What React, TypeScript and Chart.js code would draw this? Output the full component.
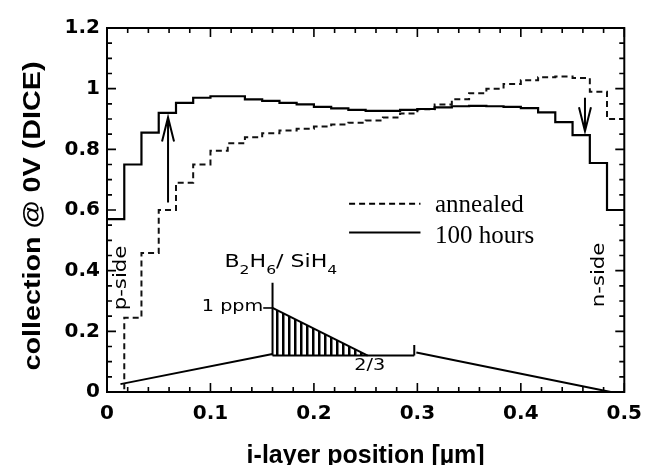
import React, { useEffect, useRef } from "react";
import { Chart, registerables } from "chart.js";

Chart.register(...registerables);

// Bin edges of the i-layer (µm); each series value holds from its edge to the next one
const BIN_EDGES = [
  0, 0.0167, 0.0333, 0.05, 0.0667, 0.0833, 0.1, 0.1167, 0.1333, 0.15, 0.1667, 0.1833, 0.2, 0.2167, 0.2333,
  0.25, 0.2667, 0.2833, 0.3, 0.3167, 0.3333, 0.35, 0.3667, 0.3833, 0.4, 0.4167, 0.4333, 0.45, 0.4667, 0.4833, 0.5,
];
const HOURS_100 = [
  0.57, 0.75, 0.855, 0.92, 0.953, 0.97, 0.975, 0.975, 0.965, 0.96, 0.953, 0.948, 0.94, 0.935, 0.93,
  0.927, 0.927, 0.93, 0.933, 0.938, 0.942, 0.943, 0.942, 0.94, 0.936, 0.922, 0.89, 0.847, 0.755, 0.6,
];
const ANNEALED = [
  0, 0.245, 0.458, 0.6, 0.69, 0.75, 0.795, 0.82, 0.84, 0.853, 0.862, 0.868, 0.875, 0.882, 0.888,
  0.895, 0.905, 0.918, 0.932, 0.948, 0.965, 0.985, 1.0, 1.015, 1.028, 1.038, 1.04, 1.035, 0.99, 0.9,
];

// B2H6/SiH4 doping profile sketch (bottom of the plot)
const RISE_X = [0.013, 0.16];
const RISE_Y = [0.026, 0.125];
const MARK_X = [0.16, 0.16];
const MARK_Y = [0.12, 0.36];
const HATCH_X = [0.16, 0.252];
const HATCH_Y = [0.277, 0.12];
const BASE_X = [0.16, 0.297];
const BASE_Y = [0.12, 0.12];
const KINK_X = [0.297, 0.297];
const KINK_Y = [0.12, 0.155];
const FALL_X = [0.299, 0.487];
const FALL_Y = [0.13, 0.0];
const HATCH_BASE = 0.12;

const X_MIN = 0;
const X_MAX = 0.5;
const X_MAJOR = 0.1;
const X_MINOR = 0.02;
const Y_MIN = 0;
const Y_MAX = 1.2;
const Y_MAJOR = 0.2;
const Y_MINOR = 0.05;

const X_TITLE = "i-layer position [µm]";
const Y_TITLE = "collection @ 0V (DICE)";
const LEGEND_LABELS = ["annealed", "100 hours"];

function stepped(vals: number[]) {
  return BIN_EDGES.map((x, i) => ({ x, y: vals[Math.min(i, vals.length - 1)] }));
}
function pts(xs: number[], ys: number[]) {
  return xs.map((x, i) => ({ x, y: ys[i] }));
}
function fmt(v: number) {
  return String(Number(Number(v).toFixed(2)));
}

function stretchText(
  ctx: CanvasRenderingContext2D,
  text: string,
  x: number,
  y: number,
  sx: number,
  align: "left" | "center" | "right",
  rot = 0
) {
  ctx.save();
  ctx.translate(x, y);
  if (rot) ctx.rotate(rot);
  ctx.scale(sx, 1);
  const w = ctx.measureText(text).width;
  const off = align === "left" ? 0 : align === "center" ? -w / 2 : -w;
  ctx.textAlign = "left";
  ctx.fillText(text, off, 0);
  ctx.restore();
}

const decorPlugin = {
  id: "decor",
  afterDraw(chart: any) {
    const { ctx, chartArea: a, scales } = chart;
    const xs = scales.x;
    const ys = scales.y;
    const px = (v: number) => xs.getPixelForValue(v);
    const py = (v: number) => ys.getPixelForValue(v);
    ctx.save();
    ctx.strokeStyle = "#000";
    ctx.fillStyle = "#000";

    // frame
    ctx.lineWidth = 2;
    ctx.strokeRect(a.left, a.top, a.right - a.left, a.bottom - a.top);

    // inward ticks on all four sides
    ctx.lineWidth = 1.6;
    const nx = Math.round((X_MAX - X_MIN) / X_MINOR);
    const perMajX = Math.round(X_MAJOR / X_MINOR);
    for (let i = 0; i <= nx; i++) {
      const X = px(X_MIN + i * X_MINOR);
      const len = i % perMajX === 0 ? 9 : 5;
      ctx.beginPath();
      ctx.moveTo(X, a.bottom);
      ctx.lineTo(X, a.bottom - len);
      ctx.moveTo(X, a.top);
      ctx.lineTo(X, a.top + len);
      ctx.stroke();
    }
    const ny = Math.round((Y_MAX - Y_MIN) / Y_MINOR);
    const perMajY = Math.round(Y_MAJOR / Y_MINOR);
    for (let i = 0; i <= ny; i++) {
      const Y = py(Y_MIN + i * Y_MINOR);
      const len = i % perMajY === 0 ? 9 : 5;
      ctx.beginPath();
      ctx.moveTo(a.left, Y);
      ctx.lineTo(a.left + len, Y);
      ctx.moveTo(a.right, Y);
      ctx.lineTo(a.right - len, Y);
      ctx.stroke();
    }

    // axis titles
    ctx.textBaseline = "alphabetic";
    ctx.font = 'bold 25px "Liberation Sans"';
    stretchText(ctx, X_TITLE, (a.left + a.right) / 2, a.bottom + 71, 1.0, "center");
    ctx.font = 'bold 23px "Liberation Sans"';
    stretchText(ctx, Y_TITLE, a.left - 67, (a.top + a.bottom) / 2 + 6, 1.25, "center", -Math.PI / 2);

    // side labels
    ctx.font = '17px "DejaVu Sans"';
    ctx.textBaseline = "middle";
    stretchText(ctx, "p-side", px(0.0144), py(0.376), 1.25, "center", -Math.PI / 2);
    stretchText(ctx, "n-side", px(0.476), py(0.386), 1.25, "center", -Math.PI / 2);

    // B2H6 / SiH4
    ctx.textBaseline = "alphabetic";
    const pieces = [
      { t: "B", s: false },
      { t: "2", s: true },
      { t: "H", s: false },
      { t: "6", s: true },
      { t: "/ SiH", s: false },
      { t: "4", s: true },
    ];
    let cx = px(0.1135);
    const by = py(0.412);
    const sx = 1.3;
    for (const p of pieces) {
      ctx.font = p.s ? '12px "DejaVu Sans"' : '17px "DejaVu Sans"';
      const w = ctx.measureText(p.t).width * sx;
      stretchText(ctx, p.t, cx, by + (p.s ? 7 : 0), sx, "left");
      cx += w;
    }

    // 1 ppm and 2/3
    ctx.font = '16px "DejaVu Sans"';
    ctx.textBaseline = "middle";
    stretchText(ctx, "1 ppm", px(0.151), py(0.282), 1.2, "right");
    stretchText(ctx, "2/3", px(0.254), py(0.086), 1.2, "center");
    ctx.lineWidth = 1.6;
    ctx.beginPath();
    ctx.moveTo(px(0.151), py(0.277));
    ctx.lineTo(px(0.16), py(0.277));
    ctx.stroke();

    // arrows
    const arrow = (xv: number, fromV: number, toV: number) => {
      const X = px(xv);
      const Y0 = py(fromV);
      const Y1 = py(toV);
      const dir = Y1 < Y0 ? 1 : -1;
      ctx.lineWidth = 2;
      ctx.beginPath();
      ctx.moveTo(X, Y0);
      ctx.lineTo(X, Y1);
      ctx.moveTo(X - 6, Y1 + dir * 24);
      ctx.lineTo(X, Y1);
      ctx.lineTo(X + 6, Y1 + dir * 24);
      ctx.stroke();
    };
    arrow(0.059, 0.625, 0.905);
    arrow(0.462, 0.97, 0.86);

    // legend
    ctx.lineWidth = 2;
    ctx.setLineDash([6, 4]);
    ctx.beginPath();
    ctx.moveTo(px(0.234), py(0.621));
    ctx.lineTo(px(0.303), py(0.621));
    ctx.stroke();
    ctx.setLineDash([]);
    ctx.beginPath();
    ctx.moveTo(px(0.234), py(0.526));
    ctx.lineTo(px(0.303), py(0.526));
    ctx.stroke();
    ctx.font = '25px "Liberation Serif"';
    ctx.textBaseline = "alphabetic";
    ctx.textAlign = "left";
    ctx.fillText(LEGEND_LABELS[0], px(0.317), py(0.593));
    ctx.fillText(LEGEND_LABELS[1], px(0.317), py(0.491));

    ctx.restore();
  },
};

export default function App() {
  const ref = useRef<HTMLCanvasElement>(null);
  useEffect(() => {
    const canvas = ref.current!;
    const pc = document.createElement("canvas");
    pc.width = 6;
    pc.height = 6;
    const pctx = pc.getContext("2d")!;
    pctx.fillStyle = "#000";
    pctx.fillRect(0, 0, 2.5, 6);
    const pattern = canvas.getContext("2d")!.createPattern(pc, "repeat");

    const tickFont = { family: "DejaVu Sans", weight: "bold" as const, size: 20 };
    const profileLine = (data: any[], extra: any = {}) => ({
      data,
      borderColor: "#000",
      borderWidth: 2,
      pointRadius: 0,
      fill: false,
      ...extra,
    });

    const chart = new Chart(canvas, {
      type: "line",
      data: {
        datasets: [
          {
            label: LEGEND_LABELS[1],
            data: stepped(HOURS_100),
            stepped: "before",
            borderColor: "#000",
            borderWidth: 2.2,
            pointRadius: 0,
            fill: false,
          },
          {
            label: LEGEND_LABELS[0],
            data: stepped(ANNEALED),
            stepped: "before",
            borderColor: "#111",
            borderWidth: 2,
            borderDash: [6, 4],
            pointRadius: 0,
            fill: false,
          },
          profileLine(pts(RISE_X, RISE_Y)),
          profileLine(pts(MARK_X, MARK_Y)),
          profileLine(pts(HATCH_X, HATCH_Y), { fill: { value: HATCH_BASE }, backgroundColor: pattern }),
          profileLine(pts(BASE_X, BASE_Y)),
          profileLine(pts(KINK_X, KINK_Y)),
          profileLine(pts(FALL_X, FALL_Y)),
        ],
      } as any,
      options: {
        responsive: true,
        maintainAspectRatio: false,
        animation: false,
        layout: { padding: { top: 28, right: 25, left: 0, bottom: 0 } },
        plugins: { legend: { display: false }, tooltip: { enabled: false } },
        elements: { line: { tension: 0 }, point: { radius: 0 } },
        scales: {
          x: {
            type: "linear",
            min: X_MIN,
            max: X_MAX,
            ticks: { stepSize: X_MAJOR, padding: 10, color: "#000", font: tickFont, callback: (v: any) => fmt(v) },
            grid: { display: false, drawTicks: false },
            border: { display: false },
            afterFit: (s: any) => {
              s.height = 73;
            },
          },
          y: {
            type: "linear",
            min: Y_MIN,
            max: Y_MAX,
            ticks: { stepSize: Y_MAJOR, padding: 7, color: "#000", font: tickFont, callback: (v: any) => fmt(v) },
            grid: { display: false, drawTicks: false },
            border: { display: false },
            afterFit: (s: any) => {
              s.width = 107;
            },
          },
        },
      } as any,
      plugins: [decorPlugin],
    });
    return () => chart.destroy();
  }, []);

  return (
    <div style={{ position: "absolute", left: 0, top: 0, width: 652, height: 465, background: "#fff" }}>
      <canvas ref={ref} />
    </div>
  );
}
